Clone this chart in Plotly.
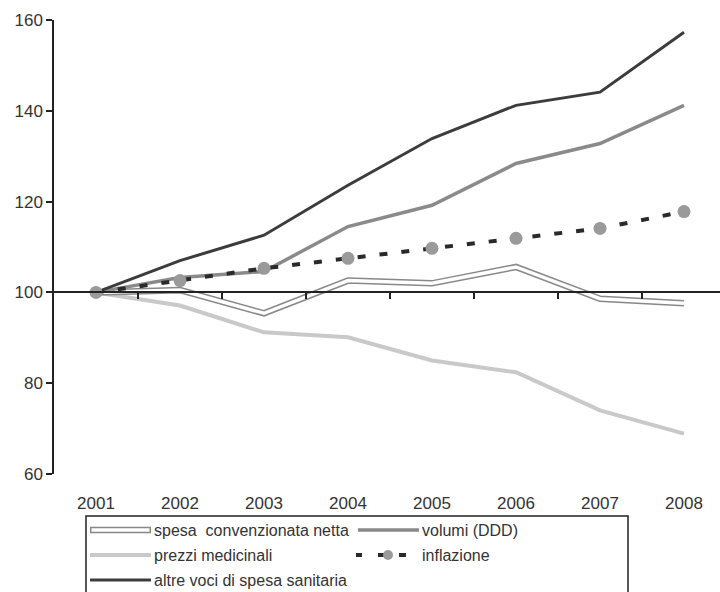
import plotly.graph_objects as go

# Index numbers, base 2001 = 100
years = ["2001", "2002", "2003", "2004", "2005", "2006", "2007", "2008"]
spesa_netta = [100, 100.5, 95.4, 102.6, 102.0, 105.6, 98.6, 97.6]
volumi_ddd = [100, 103.3, 104.6, 114.5, 119.2, 128.4, 132.8, 141.2]
prezzi_medicinali = [100, 97.1, 91.2, 90.1, 85.0, 82.4, 74.0, 68.9]
inflazione = [100, 102.6, 105.3, 107.5, 109.7, 111.9, 114.1, 117.8]
altre_voci = [100, 107.0, 112.6, 123.6, 133.9, 141.2, 144.1, 157.3]
y_ticks = [60, 80, 100, 120, 140, 160]

names = ["spesa  convenzionata netta", "volumi (DDD)", "prezzi medicinali",
         "inflazione", "altre voci di spesa sanitaria"]

FONT = "Liberation Sans, Arial, sans-serif"
TXT = "#333333"
W, H = 720, 592
ML, MR, MT, MB = 54, 0, 20, 118
PW, PH = W - ML - MR, H - MT - MB
CAT_PX = 84.0

idx = list(range(len(years)))
xr = [-0.5, -0.5 + PW / CAT_PX]

fig = go.Figure()

fig.add_trace(go.Scatter(x=years, y=prezzi_medicinali, mode="lines",
                         line=dict(color="#c9c9c9", width=4), showlegend=False))
# double line: grey outline with white core
fig.add_trace(go.Scatter(x=years, y=spesa_netta, mode="lines",
                         line=dict(color="#888888", width=6.5), showlegend=False))
fig.add_trace(go.Scatter(x=years, y=spesa_netta, mode="lines",
                         line=dict(color="#ffffff", width=3.5), showlegend=False))
fig.add_trace(go.Scatter(x=years, y=volumi_ddd, mode="lines",
                         line=dict(color="#8a8a8a", width=3.5), showlegend=False))
fig.add_trace(go.Scatter(x=years, y=altre_voci, mode="lines",
                         line=dict(color="#3c3c3c", width=3), showlegend=False))
# inflation drawn on the secondary x axis (same scale, numeric positions)
fig.add_trace(go.Scatter(x=idx, y=inflazione, mode="lines+markers", xaxis="x2",
                         line=dict(color="#2a2a2a", width=4, dash="8px,14px"),
                         marker=dict(color="#9a9a9a", size=13),
                         showlegend=False))

fig.update_layout(
    width=W, height=H,
    margin=dict(l=ML, r=MR, t=MT, b=MB),
    plot_bgcolor="white", paper_bgcolor="white",
    font=dict(family=FONT, color=TXT),
    xaxis=dict(type="category", categoryorder="array", categoryarray=years,
               range=xr, showline=False, showgrid=False, zeroline=False,
               ticks="outside", ticklen=14, tickcolor="rgba(0,0,0,0)",
               tickfont=dict(size=17, color=TXT, family=FONT)),
    # base line at 100 with ticks between the years
    xaxis2=dict(type="linear", range=xr, overlaying="x", anchor="free",
                position=(100 - 60) / 100.0, side="bottom",
                showline=True, linecolor="#222222", linewidth=1.5,
                ticks="outside", ticklen=6, tickwidth=1.5, tickcolor="#222222",
                tickmode="array", tickvals=[i + 0.5 for i in idx[:-1]],
                ticktext=["" for _ in idx[:-1]],
                showticklabels=True, showgrid=False, zeroline=False),
    yaxis=dict(range=[60, 160], tickvals=y_ticks, showgrid=False, zeroline=False,
               showline=True, linecolor="#222222", linewidth=1.5,
               ticks="outside", ticklen=6, tickwidth=1.5, tickcolor="#222222",
               tickfont=dict(size=17, color=TXT, family=FONT)),
)


def px_x(px):
    return (px - ML) / PW


def px_y(py):
    return (H - MB - py) / PH


def hline(x0, x1, y, **line):
    return dict(type="line", xref="paper", yref="paper",
                x0=px_x(x0), x1=px_x(x1), y0=px_y(y), y1=px_y(y), line=line)


# legend box (continues past the bottom edge)
shapes = [dict(type="rect", xref="paper", yref="paper",
               x0=px_x(86), x1=px_x(628), y0=px_y(600), y1=px_y(516),
               line=dict(color="#222222", width=1.5), fillcolor="white")]
annotations = []

cols = [90, 358]
rows = [530, 555, 580]
slots = [(0, 0), (1, 0), (0, 1), (1, 1), (0, 2)]
for name, (c, r) in zip(names, slots):
    x0, x1 = cols[c], cols[c] + 61
    yy = rows[r]
    if name.startswith("spesa"):
        shapes.append(hline(x0, x1, yy, color="#888888", width=6.5))
        shapes.append(hline(x0 + 1.5, x1 - 1.5, yy, color="#ffffff", width=3.5))
    elif name.startswith("volumi"):
        shapes.append(hline(x0, x1, yy, color="#8a8a8a", width=3.5))
    elif name.startswith("prezzi"):
        shapes.append(hline(x0, x1, yy, color="#c9c9c9", width=4))
    elif name.startswith("inflazione"):
        for d0, d1 in [(356, 362), (378, 385), (399, 406)]:
            shapes.append(hline(d0, d1, yy, color="#2a2a2a", width=4))
        cx = 388
        shapes.append(dict(type="circle", xref="paper", yref="paper",
                           x0=px_x(cx - 5), x1=px_x(cx + 5),
                           y0=px_y(yy + 5), y1=px_y(yy - 5),
                           line=dict(width=0), fillcolor="#9a9a9a"))
    else:
        shapes.append(hline(x0, x1, yy, color="#3c3c3c", width=3))
    tx = x1 + 1 if not name.startswith("inflazione") else 420
    annotations.append(dict(text=name, xref="paper", yref="paper",
                            x=px_x(tx), y=px_y(yy), xanchor="left",
                            yanchor="middle", showarrow=False,
                            font=dict(size=16, color=TXT, family=FONT)))

fig.update_layout(shapes=shapes, annotations=annotations)

fig.write_html("out.html")
